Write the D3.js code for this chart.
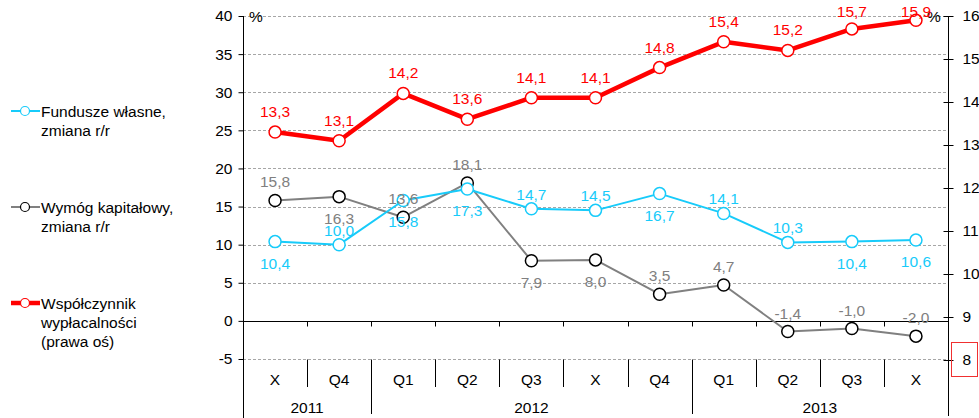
<!DOCTYPE html>
<html>
<head>
<meta charset="utf-8">
<script src="https://cdn.jsdelivr.net/npm/d3@7"></script>
<style>
  html, body { margin: 0; padding: 0; background: #fff; }
  svg { display: block; font-family: "Liberation Sans", Arial, sans-serif; }
</style>
</head>
<body>
<svg id="chart" width="979" height="418"></svg>
<script>
// Categories (periods) and the year groups below them
const categories = ["X", "Q4", "Q1", "Q2", "Q3", "X", "Q4", "Q1", "Q2", "Q3", "X"];
const years = ["2011", "2012", "2013"];
const yearCounts = [2, 5, 4];

// Series values, %
const funduszeWlasne = [10.4, 10.0, 15.8, 17.3, 14.7, 14.5, 16.7, 14.1, 10.3, 10.4, 10.6];
const wymogKapitalowy = [15.8, 16.3, 13.6, 18.1, 7.9, 8.0, 3.5, 4.7, -1.4, -1.0, -2.0];
const wspolczynnik = [13.3, 13.1, 14.2, 13.6, 14.1, 14.1, 14.8, 15.4, 15.2, 15.7, 15.9];

// Which side of the marker each value label sits on: "a" above, "b" below
const funduszeLabelSide = ["b", "a", "b", "b", "a", "a", "b", "a", "a", "b", "b"];
const wymogLabelSide    = ["a", "b", "a", "a", "b", "b", "a", "a", "a", "a", "a"];
const wspolLabelSide    = ["a", "a", "a", "a", "a", "a", "a", "a", "a", "a", "a"];

// Axis ticks
const leftTicks = [-5, 0, 5, 10, 15, 20, 25, 30, 35, 40];
const rightTicks = [8, 9, 10, 11, 12, 13, 14, 15, 16];

const CYAN = "#17CBFA", GRAY = "#808080", RED = "#FF0000";
const FONT = 15.5;

const svg = d3.select("#chart");
const left = 243, right = 948;

const x = d3.scaleBand().domain(d3.range(categories.length)).range([left, right]).padding(0);
const cx = i => x(i) + x.bandwidth() / 2;
const yL = d3.scaleLinear().domain([-5, 40]).range([359, 16]);
const yR = d3.scaleLinear().domain([8, 16]).range([360, 16]);

const fmt = v => v.toFixed(1).replace(".", ",");

// Dashed horizontal gridlines
svg.append("g").selectAll("line")
  .data(leftTicks.filter(t => t !== 0))
  .join("line")
  .attr("x1", left).attr("x2", right)
  .attr("y1", d => Math.round(yL(d)) + 0.5).attr("y2", d => Math.round(yL(d)) + 0.5)
  .attr("stroke", "#a6a6a6").attr("stroke-width", 1)
  .attr("stroke-dasharray", "3,2");

// Zero line with small ticks at category boundaries
const y0 = Math.round(yL(0)) + 0.5;
svg.append("line").attr("x1", left).attr("x2", right).attr("y1", y0).attr("y2", y0)
  .attr("stroke", "#000").attr("stroke-width", 1);
svg.append("g").selectAll("line")
  .data(d3.range(1, categories.length))
  .join("line")
  .attr("x1", i => Math.round(x(i)) + 0.5).attr("x2", i => Math.round(x(i)) + 0.5)
  .attr("y1", y0).attr("y2", y0 + 5)
  .attr("stroke", "#000");

// Category dividers and year dividers below the plot
const yearBounds = [];
{ let acc = 0; yearCounts.forEach(c => { yearBounds.push([acc, acc + c]); acc += c; }); }
const yearEdges = new Set(yearBounds.slice(0, -1).map(b => b[1]));
const yBottom = Math.round(yL(-5)) + 0.5;
svg.append("g").selectAll("line")
  .data(d3.range(1, categories.length))
  .join("line")
  .attr("x1", i => Math.round(x(i)) + 0.5).attr("x2", i => Math.round(x(i)) + 0.5)
  .attr("y1", yBottom).attr("y2", i => yearEdges.has(i) ? 414 : 387)
  .attr("stroke", "#000");

// Category labels
svg.append("g").selectAll("text")
  .data(categories)
  .join("text")
  .attr("x", (d, i) => cx(i)).attr("y", 385)
  .attr("text-anchor", "middle").attr("font-size", FONT).attr("fill", "#000")
  .text(d => d);

// Year labels
svg.append("g").selectAll("text")
  .data(years)
  .join("text")
  .attr("x", (d, i) => (x(yearBounds[i][0]) + x(yearBounds[i][1] - 1) + x.bandwidth()) / 2)
  .attr("y", 413)
  .attr("text-anchor", "middle").attr("font-size", FONT).attr("fill", "#000")
  .text(d => d);

// Left axis
const gL = svg.append("g").attr("transform", `translate(${left + 0.5},0)`)
  .call(d3.axisLeft(yL).tickValues(leftTicks).tickSize(5).tickPadding(6)
    .tickFormat(d => d < 0 ? "-" + Math.abs(d) : String(d)));
gL.select(".domain").remove();
gL.selectAll(".tick line").attr("stroke", "#000");
gL.selectAll(".tick text").attr("font-size", FONT).attr("fill", "#000")
  .attr("font-family", "Liberation Sans, Arial, sans-serif");
svg.append("line").attr("x1", left + 0.5).attr("x2", left + 0.5).attr("y1", 16).attr("y2", 418)
  .attr("stroke", "#000");

// Right axis (ticks cross the axis line)
const gR = svg.append("g").attr("transform", `translate(${right + 0.5},0)`)
  .call(d3.axisRight(yR).tickValues(rightTicks).tickSize(5).tickPadding(9)
    .tickFormat(d => String(d)));
gR.select(".domain").remove();
gR.selectAll(".tick line").attr("x1", -5).attr("x2", 5).attr("stroke", "#000");
gR.selectAll(".tick text").attr("font-size", FONT).attr("fill", "#000")
  .attr("font-family", "Liberation Sans, Arial, sans-serif");
svg.append("line").attr("x1", right + 0.5).attr("x2", right + 0.5).attr("y1", 16).attr("y2", 416)
  .attr("stroke", "#000");

// Box around the lowest right-axis label
svg.append("rect").attr("x", 951.5).attr("y", 342.5).attr("width", 26).attr("height", 34)
  .attr("fill", "none").attr("stroke", "#f03030").attr("stroke-width", 1);

// Unit labels
svg.append("text").attr("x", 249).attr("y", 22).attr("font-size", FONT).attr("fill", "#000").text("%");
svg.append("text").attr("x", 927).attr("y", 22).attr("font-size", FONT).attr("fill", "#000").text("%");

// Series drawing
function drawSeries(values, yScale, color, width, markerStroke) {
  const g = svg.append("g");
  g.append("path")
    .datum(values)
    .attr("fill", "none").attr("stroke", color).attr("stroke-width", width)
    .attr("stroke-linejoin", "round")
    .attr("d", d3.line().x((d, i) => cx(i)).y(d => yScale(d)));
  g.selectAll("circle")
    .data(values)
    .join("circle")
    .attr("cx", (d, i) => cx(i)).attr("cy", d => yScale(d)).attr("r", 6)
    .attr("fill", "#fff").attr("stroke", markerStroke).attr("stroke-width", 1.5);
  return g;
}
function drawLabels(values, yScale, color, sides, aboveGap) {
  svg.append("g").selectAll("text")
    .data(values)
    .join("text")
    .attr("x", (d, i) => cx(i))
    .attr("y", (d, i) => Math.max(17, yScale(d) + (sides[i] === "a" ? -aboveGap : 27)))
    .attr("text-anchor", "middle").attr("font-size", FONT).attr("fill", color)
    .text(d => fmt(d));
}

drawSeries(wymogKapitalowy, yL, GRAY, 2, "#000");
drawSeries(funduszeWlasne, yL, CYAN, 2, CYAN);
drawSeries(wspolczynnik, yR, RED, 4.5, RED);
drawLabels(wymogKapitalowy, yL, GRAY, wymogLabelSide, 13);
drawLabels(funduszeWlasne, yL, CYAN, funduszeLabelSide, 9);
drawLabels(wspolczynnik, yR, RED, wspolLabelSide, 15);

// Legend
const legend = [
  { lines: ["Fundusze własne,", "zmiana r/r"], color: CYAN, width: 2, marker: CYAN, y: 111 },
  { lines: ["Wymóg kapitałowy,", "zmiana r/r"], color: GRAY, width: 2, marker: "#000", y: 207 },
  { lines: ["Współczynnik", "wypłacalności", "(prawa oś)"], color: RED, width: 4.5, marker: RED, y: 303 }
];
const lg = svg.append("g").selectAll("g").data(legend).join("g");
lg.append("line").attr("x1", 11).attr("x2", 40).attr("y1", d => d.y).attr("y2", d => d.y)
  .attr("stroke", d => d.color).attr("stroke-width", d => d.width);
lg.append("circle").attr("cx", 25).attr("cy", d => d.y).attr("r", 4.5)
  .attr("fill", "#fff").attr("stroke", d => d.marker).attr("stroke-width", 1.2);
lg.each(function(d) {
  d3.select(this).selectAll("text").data(d.lines).join("text")
    .attr("x", 41).attr("y", (t, i) => d.y + 5.5 + i * 19.3)
    .attr("font-size", FONT).attr("fill", "#000")
    .text(t => t);
});
</script>
</body>
</html>
